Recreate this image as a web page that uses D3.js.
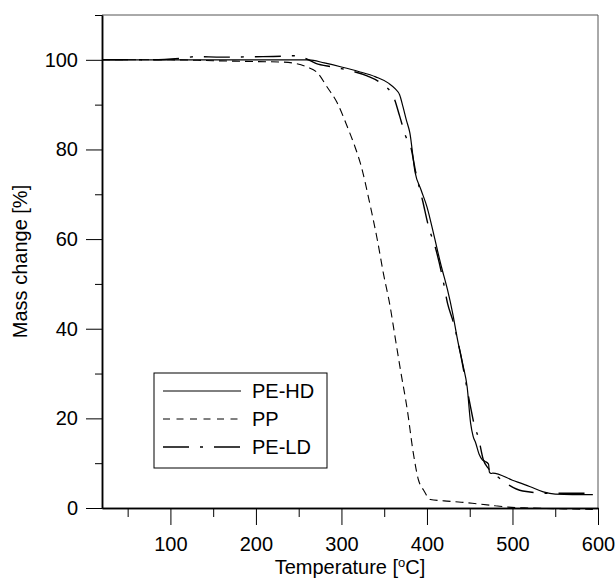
<!DOCTYPE html>
<html>
<head>
<meta charset="utf-8">
<script src="https://cdn.jsdelivr.net/npm/d3@7"></script>
<style>
  body { margin: 0; background: #fff; }
  text { font-family: "Liberation Sans", Arial, sans-serif; fill: #000; }
</style>
</head>
<body>
<svg id="chart" width="616" height="580"></svg>
<script>
// TGA curves (temperature in °C, mass change in %)
const tempHD = [20, 100, 200, 250, 262, 280, 300, 320, 340, 355, 363, 368, 372, 376, 380, 386, 393, 400, 408, 416, 424, 430, 436, 442, 447, 451, 454, 457, 461, 465, 468, 472, 473, 475, 477, 500, 520, 536, 550, 570, 594];
const massHD = [100, 100, 100, 100, 100, 99.3, 98.4, 97.4, 96.2, 94.8, 93.5, 92.2, 89.5, 86.5, 83.7, 75, 71, 67.2, 61, 54.5, 48.7, 43.5, 37.3, 32, 27, 19, 16, 14.5, 12, 10.7, 10.4, 9.8, 8, 7.7, 7.8, 6.2, 4.8, 3.6, 3.1, 3.0, 3.0];

const tempPP = [20, 100, 150, 200, 230, 246, 260, 272, 283, 295, 307, 316, 322, 334, 342, 349, 357, 362, 369, 377, 384, 390, 396, 404, 420, 440, 460, 480, 495, 520, 560, 594];
const massPP = [100, 100, 99.8, 99.6, 99.5, 99.2, 98.4, 97.1, 94, 90.4, 85, 80.5, 77, 67.2, 59.8, 52.4, 44.9, 39, 30.8, 21.9, 12.3, 6.3, 4, 1.9, 1.6, 1.3, 0.9, 0.5, 0.2, 0, -0.2, -0.3];

const tempLD = [20, 80, 110, 130, 160, 200, 230, 245, 258, 270, 290, 310, 330, 346, 361, 368, 375, 381, 387, 395, 402, 410, 418, 424, 431, 439, 445, 451, 456, 460, 466, 472, 480, 492, 512, 541, 570, 590];
const massLD = [100, 100, 100.3, 100.7, 100.6, 100.7, 100.8, 100.9, 100.3, 99.2, 98.4, 97.6, 96.4, 94.8, 91.7, 87.5, 83, 80.6, 74.8, 68.5, 62.7, 58, 51.6, 45.7, 41.3, 34.6, 28.5, 22.5, 18, 15.8, 10.7, 8.8, 7.4, 5.6, 3.8, 3.3, 3.3, 3.3];

const seriesNames = ["PE-HD", "PP", "PE-LD"];
const xMajor = [100, 200, 300, 400, 500, 600];
const xMinor = [50, 150, 250, 350, 450, 550];
const yMajor = [0, 20, 40, 60, 80, 100];
const yMinor = [10, 30, 50, 70, 90, 110];

// layout
const plotLeft = 102, plotRight = 598, plotTop = 15, plotBottom = 508;
const svg = d3.select("#chart");

const x = d3.scaleLinear().domain([20, 600]).range([plotLeft, plotRight]);
const y = d3.scaleLinear().domain([0, 110]).range([plotBottom, plotTop]);

// frame top / right (thin grey)
svg.append("line").attr("x1", plotLeft).attr("x2", plotRight).attr("y1", plotTop).attr("y2", plotTop)
  .attr("stroke", "#555").attr("stroke-width", 1);
svg.append("line").attr("x1", plotRight).attr("x2", plotRight).attr("y1", plotTop).attr("y2", plotBottom)
  .attr("stroke", "#555").attr("stroke-width", 1);

// axes
function styleAxis(g) {
  g.select(".domain").attr("stroke", "#000").attr("stroke-width", 1.5);
  g.selectAll(".tick line").attr("stroke", "#000").attr("stroke-width", 1);
  g.selectAll(".tick text").style("font-size", "20px")
    .style("font-family", '"Liberation Sans", Arial, sans-serif');
}

svg.append("g").attr("transform", `translate(0,${plotBottom})`)
  .call(d3.axisBottom(x).tickValues(xMinor).tickSize(9).tickSizeOuter(0).tickFormat(""))
  .call(styleAxis);
svg.append("g").attr("transform", `translate(0,${plotBottom})`)
  .call(d3.axisBottom(x).tickValues(xMajor).tickSize(17).tickSizeOuter(0).tickPadding(12))
  .call(styleAxis);

svg.append("g").attr("transform", `translate(${plotLeft},0)`)
  .call(d3.axisLeft(y).tickValues(yMinor).tickSize(7).tickSizeOuter(0).tickFormat(""))
  .call(styleAxis);
svg.append("g").attr("transform", `translate(${plotLeft},0)`)
  .call(d3.axisLeft(y).tickValues(yMajor).tickSize(16).tickSizeOuter(0).tickPadding(8))
  .call(styleAxis);

// axis titles
svg.append("text")
  .attr("transform", `translate(27,${(plotTop + plotBottom) / 2}) rotate(-90)`)
  .attr("text-anchor", "middle")
  .style("font-size", "20px")
  .text("Mass change [%]");

const xt = svg.append("text")
  .attr("x", (plotLeft + plotRight) / 2)
  .attr("y", 574)
  .attr("text-anchor", "middle")
  .style("font-size", "20px");
xt.append("tspan").text("Temperature [");
xt.append("tspan").attr("dy", -7).style("font-size", "13px").text("o");
xt.append("tspan").attr("dy", 7).text("C]");

// curves
const line = d3.line()
  .x((d) => x(d[0]))
  .y((d) => y(d[1]))
  .curve(d3.curveMonotoneX);

const dashes = ["none", "8,5", "26,11,3,11"];
const widths = [1.2, 1.1, 1.4];
const curves = [
  d3.zip(tempHD, massHD),
  d3.zip(tempPP, massPP),
  d3.zip(tempLD, massLD),
];

svg.append("g")
  .selectAll("path")
  .data(curves)
  .enter()
  .append("path")
  .attr("d", line)
  .attr("fill", "none")
  .attr("stroke", "#000")
  .attr("stroke-width", (d, i) => widths[i])
  .attr("stroke-dasharray", (d, i) => dashes[i]);

// legend
const legend = svg.append("g").attr("transform", "translate(154,373)");
legend.append("rect")
  .attr("width", 173).attr("height", 95)
  .attr("fill", "#fff").attr("stroke", "#000").attr("stroke-width", 1);

const legendDash = ["none", "7,6.5", "26,11,3,11"];
legend.selectAll(".legend-item")
  .data(seriesNames)
  .enter()
  .append("g")
  .attr("class", "legend-item")
  .attr("transform", (d, i) => `translate(0,${18 + i * 28})`)
  .each(function (d, i) {
    d3.select(this).append("line")
      .attr("x1", 9).attr("x2", 87)
      .attr("stroke", "#000")
      .attr("stroke-width", i === 2 ? 1.4 : 1)
      .attr("stroke-dasharray", legendDash[i]);
    d3.select(this).append("text")
      .attr("x", 98).attr("y", 7)
      .style("font-size", "20px")
      .text(d);
  });
</script>
</body>
</html>
